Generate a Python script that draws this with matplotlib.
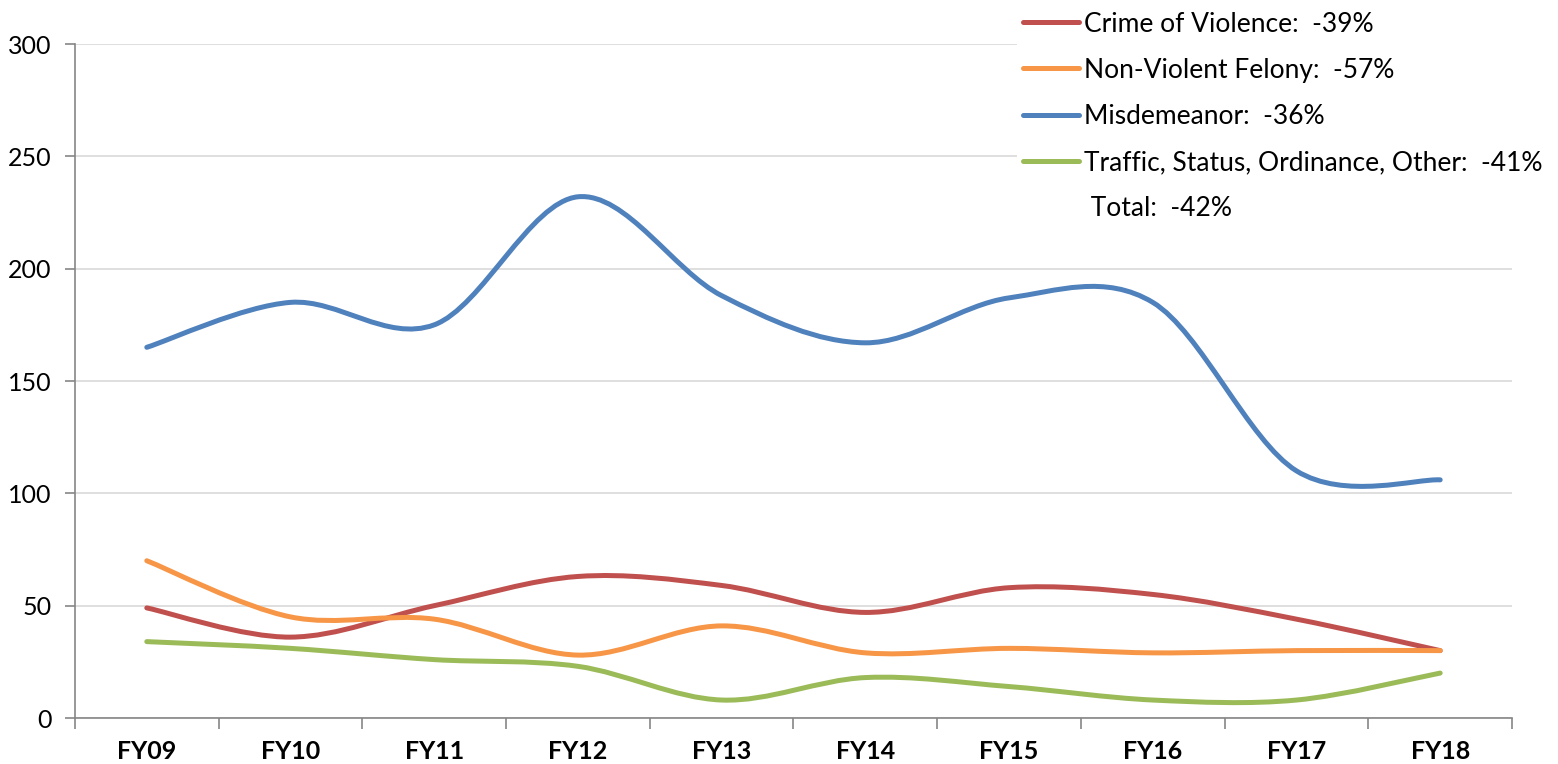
import matplotlib
matplotlib.use("Agg")
import matplotlib.pyplot as plt
import numpy as np
from matplotlib.path import Path
from matplotlib.patches import PathPatch
from matplotlib.lines import Line2D

years = ["FY09", "FY10", "FY11", "FY12", "FY13", "FY14", "FY15", "FY16", "FY17", "FY18"]
crime_of_violence = [49, 36, 50, 63, 59, 47, 58, 55, 44, 30]
non_violent_felony = [70, 45, 44, 28, 41, 29, 31, 29, 30, 30]
misdemeanor = [165, 185, 175, 232, 188, 167, 187, 185, 110, 106]
traffic_other = [34, 31, 26, 23, 8, 18, 14, 8, 8, 20]

series = [
    ("Crime of Violence:  -39%", crime_of_violence, "#C0504D"),
    ("Non-Violent Felony:  -57%", non_violent_felony, "#F79646"),
    ("Misdemeanor:  -36%", misdemeanor, "#4F81BD"),
    ("Traffic, Status, Ordinance, Other:  -41%", traffic_other, "#9BBB59"),
]
total_label = " Total:  -42%"

plt.rcParams["font.family"] = ["Lato", "DejaVu Sans"]


def smooth_path(xs, ys):
    # Excel-like smoothed line: cubic bezier through every point
    pts = np.column_stack([xs, ys]).astype(float)
    n = len(pts)
    verts = [pts[0]]
    codes = [Path.MOVETO]
    for i in range(n - 1):
        p0 = pts[i - 1] if i > 0 else pts[i]
        p1, p2 = pts[i], pts[i + 1]
        p3 = pts[i + 2] if i + 2 < n else pts[i + 1]
        c1 = p1 + (p2 - p0) / 6.0
        c2 = p2 - (p3 - p1) / 6.0
        verts += [c1, c2, p2]
        codes += [Path.CURVE4] * 3
    return Path(verts, codes)


fig = plt.figure(figsize=(15.58, 7.64), dpi=100)
ax = fig.add_axes([0.0481, 0.0602, 0.9224, 0.8822])

x = np.arange(len(years))
for label, vals, color in series:
    ax.add_patch(PathPatch(smooth_path(x, vals), facecolor="none", edgecolor=color,
                           lw=3.6, capstyle="round", joinstyle="round", zorder=3))

ax.set_xlim(-0.5, len(years) - 0.5)
ax.set_ylim(0, 300)
ax.set_yticks(range(0, 301, 50))
ax.tick_params(axis="y", labelsize=18, length=7, width=1.2, color="#868686", pad=10)
ax.set_xticks(x)
ax.set_xticklabels(years, fontweight="bold")
ax.tick_params(axis="x", which="major", length=0, labelsize=18, pad=16)
ax.set_xticks(np.arange(-0.5, len(years)), minor=True)
ax.tick_params(axis="x", which="minor", length=8, width=1.2, color="#868686")
ax.grid(axis="y", color="#D9D9D9", lw=1.2, zorder=0)

for side in ("top", "right"):
    ax.spines[side].set_visible(False)
for side in ("left", "bottom"):
    ax.spines[side].set_color("#868686")
    ax.spines[side].set_linewidth(1.2)

handles = [Line2D([], [], color=c, lw=3.6, solid_capstyle="round") for _, _, c in series]
handles.append(Line2D([], [], color="none"))
labels = [s[0] for s in series] + [total_label]
leg = fig.legend(handles, labels, loc="upper left", bbox_to_anchor=(0.6525, 0.9935),
                 frameon=True, fontsize=19, handlelength=2.1, handletextpad=0.2,
                 labelspacing=0.8, borderpad=0.25, borderaxespad=0)
leg.get_frame().set_edgecolor("none")
leg.get_frame().set_facecolor("white")
leg.get_frame().set_alpha(1)

fig.savefig("out.png", dpi=100)
